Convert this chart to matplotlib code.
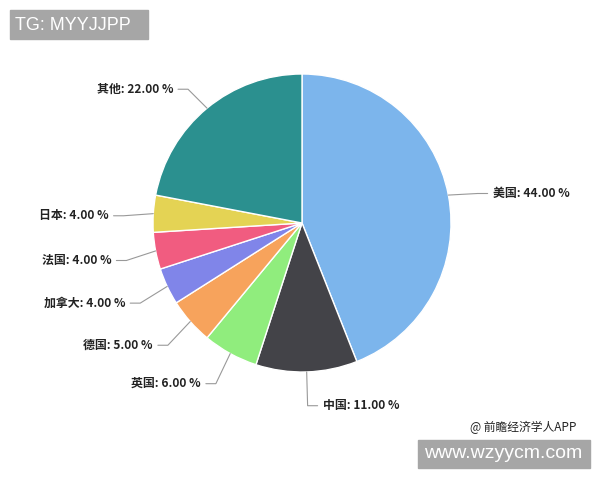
import numpy as np
import matplotlib
matplotlib.use("Agg")
import matplotlib.pyplot as plt

plt.rcParams['font.family'] = ['Noto Sans CJK SC', 'DejaVu Sans']

countries = ["美国", "中国", "英国", "德国", "加拿大", "法国", "日本", "其他"]
shares = [44.0, 11.0, 6.0, 5.0, 4.0, 4.0, 4.0, 22.0]
colors = ["#7cb5ec", "#434348", "#90ed7d", "#f7a35c", "#8085e9", "#f15c80", "#e4d354", "#2b908f"]

W, H = 600, 480
fig = plt.figure(figsize=(6, 4.8), dpi=100)
ax = fig.add_axes([0, 0, 1, 1])
cx, cy, R = 302, 480 - 223, 149

wedges, _ = ax.pie(shares, colors=colors, startangle=90, counterclock=False,
                   center=(cx, cy), radius=R,
                   wedgeprops=dict(edgecolor="white", linewidth=1))
ax.set_xlim(0, W)
ax.set_ylim(0, H)
ax.set_aspect("equal")
ax.axis("off")

total = sum(shares)
cum = 0
for name, v in zip(countries, shares):
    mid = 90 - 360 * (cum + v / 2) / total
    cum += v
    a = np.deg2rad(mid)
    c, s = np.cos(a), np.sin(a)
    x0, y0 = cx + R * c, cy + R * s
    x1, y1 = cx + 1.2 * R * c, cy + 1.2 * R * s - 4
    side = 1 if c >= 0 else -1
    x2 = x1 + side * 10
    ax.plot([x0, x1, x2], [y0, y1, y1], color="#999999", lw=0.8,
            solid_capstyle="round")
    ax.text(x2 + side * 5, y1, f"{name}: {v:.2f} %", ha="left" if side > 0 else "right",
            va="center", fontsize=8.6, fontweight="bold", color="#222222")

# watermark boxes
fig.patches.append(plt.Rectangle((10 / W, 1 - 39 / H), 138 / W, 29 / H,
                                 transform=fig.transFigure, color="#a6a6a6", zorder=5))
fig.text(15 / W, 1 - 25 / H, "TG: MYYJJPP", color="white", fontsize=13,
         va="center", ha="left", family=["Liberation Sans"], zorder=6)
fig.patches.append(plt.Rectangle((418 / W, 1 - 468 / H), 172 / W, 28 / H,
                                 transform=fig.transFigure, color="#a6a6a6", zorder=5))
fig.text(503 / W, 1 - 454 / H, "www.wzyycm.com", color="white", fontsize=14,
         va="center", ha="center", family=["Liberation Sans"], zorder=6)
fig.text(576 / W, 1 - 427 / H, "@ 前瞻经济学人APP", color="#222222", fontsize=8.5,
         va="center", ha="right")

fig.savefig("out.png", dpi=100, facecolor="white")
